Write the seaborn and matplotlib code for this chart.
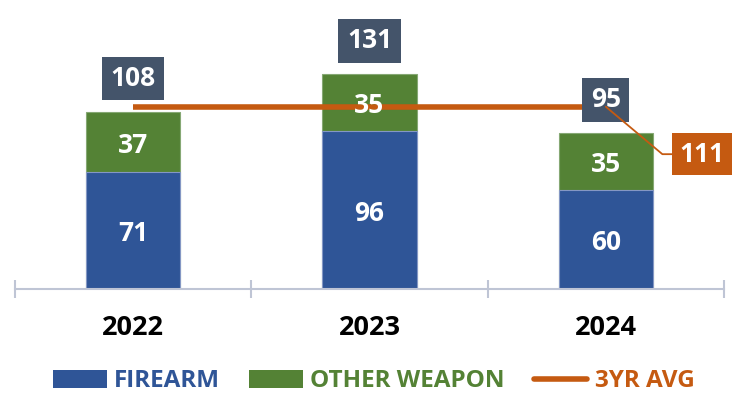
import matplotlib
matplotlib.use('Agg')
import matplotlib.pyplot as plt
import seaborn as sns
import pandas as pd
from matplotlib.patches import Patch
from matplotlib.lines import Line2D

years = ['2022', '2023', '2024']
firearm = [71, 96, 60]
other = [37, 35, 35]
totals = [108, 131, 95]
avg3 = 111
legend_labels = ['FIREARM', 'OTHER WEAPON', '3YR AVG']

BLUE = '#2F5597'
GREEN = '#548235'
ORANGE = '#C55A11'
SLATE = '#44546A'
AXIS = '#BFC5D5'

sns.set_theme(style='white')
plt.rcParams['font.family'] = ['Open Sans', 'DejaVu Sans']

fig = plt.figure(figsize=(7.36, 3.94), dpi=100)
ax = fig.add_axes([15/736, 1-289/394, 709/736, 289/394])

df = pd.DataFrame({'year': years, 'firearm': firearm, 'other': other, 'total': totals})
sns.barplot(data=df, x='year', y='total', color=GREEN, width=0.4, ax=ax,
            saturation=1, edgecolor='#86A874', linewidth=0.8, zorder=2)
sns.barplot(data=df, x='year', y='firearm', color=BLUE, width=0.4, ax=ax,
            saturation=1, edgecolor='#8497C4', linewidth=0.8, zorder=2)

n = len(years)
ax.plot([0, n-1], [avg3, avg3], color=ORANGE, lw=4, zorder=3, solid_capstyle='butt')

for i in range(n):
    ax.text(i, firearm[i]/2, str(firearm[i]), ha='center', va='center_baseline', color='white',
            fontsize=19, fontweight='bold', zorder=4)
    ax.text(i, firearm[i] + other[i]/2, str(other[i]), ha='center', va='center_baseline', color='white',
            fontsize=19, fontweight='bold', zorder=4)
    ax.annotate(str(totals[i]), (i, totals[i]), xytext=(0, 26), textcoords='offset points',
                ha='center', va='center_baseline', color='white', fontsize=19, fontweight='bold',
                bbox=dict(boxstyle='square,pad=0.32', fc=SLATE, ec='none'), zorder=5)

ax.annotate(str(avg3), xy=(n-1, avg3), xytext=(69, -32), textcoords='offset points',
            ha='center', va='center_baseline', color='white', fontsize=19, fontweight='bold',
            bbox=dict(boxstyle='square,pad=0.28', fc=ORANGE, ec='none'),
            arrowprops=dict(arrowstyle='-', color=ORANGE, lw=1.3,
                            connectionstyle='angle,angleA=0,angleB=-40,rad=0',
                            shrinkA=0, shrinkB=0),
            zorder=6)

ax.set_xlim(-0.5, n-0.5)
ax.set_ylim(0, 176)
ax.set_yticks([])
ax.set_xlabel('')
ax.set_ylabel('')
for s in ['left', 'top', 'right']:
    ax.spines[s].set_visible(False)
ax.spines['bottom'].set_color(AXIS)
ax.spines['bottom'].set_linewidth(1.5)
ax.set_xticks(range(n))
ax.set_xticklabels(years)
ax.set_xticks([k - 0.5 for k in range(n+1)], minor=True)
ax.tick_params(axis='x', which='major', length=0, pad=19, labelsize=19.5)
ax.tick_params(axis='x', which='minor', length=13, width=1.5, color=AXIS, direction='inout', bottom=True)
for t in ax.get_xticklabels():
    t.set_fontweight('bold')
    t.set_color('black')

handles = [Patch(facecolor=BLUE, edgecolor='none'), Patch(facecolor=GREEN, edgecolor='none'),
           Line2D([0], [0], color=ORANGE, lw=4)]
leg = fig.legend(handles, legend_labels, loc='center', bbox_to_anchor=(0.508, 0.032), ncol=3,
                 frameon=False, handlelength=2.2, handleheight=0.72, handletextpad=0.3,
                 columnspacing=1.2, prop=dict(weight='bold', size=17.5),
                 borderpad=0.1, borderaxespad=0)
for t, c in zip(leg.get_texts(), [BLUE, GREEN, ORANGE]):
    t.set_color(c)

fig.savefig('out.png', dpi=100)
